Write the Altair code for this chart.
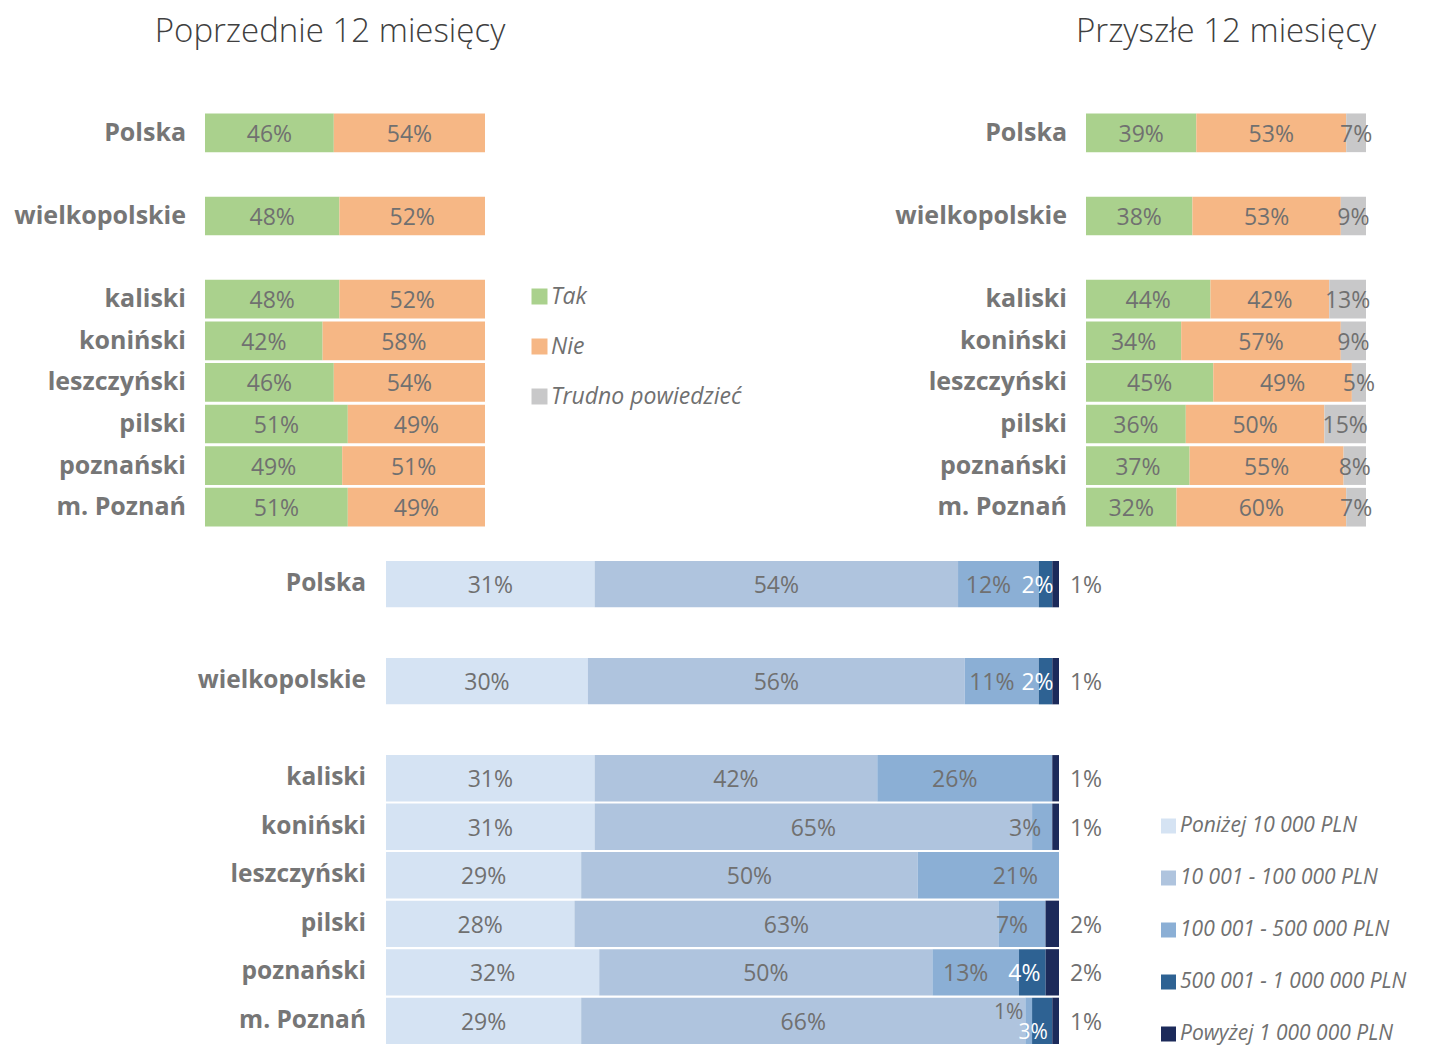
import altair as alt
import pandas as pd

# ---------------- data ----------------
regions = ["Polska", "wielkopolskie", "kaliski", "koniński", "leszczyński",
           "pilski", "poznański", "m. Poznań"]
slots = ["Polska", "gap1", "wielkopolskie", "gap2", "kaliski", "koniński",
         "leszczyński", "pilski", "poznański", "m. Poznań"]
titles = ["Poprzednie 12 miesięcy", "Przyszłe 12 miesięcy"]

answers = ["Tak", "Nie", "Trudno powiedzieć"]
answer_colors = ["#AAD18D", "#F6B785", "#C8C8C9"]

past_tak = [46, 48, 48, 42, 46, 51, 49, 51]
past_nie = [54, 52, 52, 58, 54, 49, 51, 49]

next_tak = [39, 38, 44, 34, 45, 36, 37, 32]
next_nie = [53, 53, 42, 57, 49, 50, 55, 60]
next_trudno = [7, 9, 13, 9, 5, 15, 8, 7]

ranges = ["Poniżej 10 000 PLN", "10 001 - 100 000 PLN", "100 001 -  500 000 PLN",
          "500 001 -  1 000 000 PLN", "Powyżej 1 000 000 PLN"]
range_colors = ["#D5E3F3", "#AFC4DE", "#8BAFD5", "#2E6293", "#1C2A5A"]
val_r1 = [31, 30, 31, 31, 29, 28, 32, 29]
val_r2 = [54, 56, 42, 65, 50, 63, 50, 66]
val_r3 = [12, 11, 26, 3, 21, 7, 13, 1]
val_r4 = [2, 2, 0, 0, 0, 0, 4, 3]
val_r5 = [1, 1, 1, 1, 0, 2, 2, 1]

FONT = "Open Sans"
GREY = "#707070"
LABEL_GREY = "#767676"
VAL_SIZE = 23


def long_df(names, series):
    rows = []
    for i, reg in enumerate(regions):
        for k, (name, vals) in enumerate(zip(names, series)):
            rows.append({"region": reg, "series": name, "order": k, "value": vals[i]})
    return pd.DataFrame(rows)


def stacked(df):
    return (alt.Chart(df)
            .transform_filter("datum.value > 0")
            .transform_stack(stack="value", groupby=["region"], as_=["s0", "s1"],
                             offset="normalize",
                             sort=[alt.SortField("order", order="ascending")])
            .transform_calculate(mid="(datum.s0 + datum.s1) / 2",
                                 label="datum.value + '%'"))


def bars(base, x_range, y_range, pin, pout, cdomain, crange, legend):
    return base.mark_bar().encode(
        x=alt.X("s0:Q", scale=alt.Scale(domain=[0, 1], range=x_range, nice=False, zero=False), axis=None),
        x2="s1:Q",
        y=alt.Y("region:N", scale=alt.Scale(domain=slots, range=y_range,
                                              paddingInner=pin, paddingOuter=pout), axis=None),
        color=alt.Color("series:N", scale=alt.Scale(domain=cdomain, range=crange), legend=legend),
    )


def vtext(base, filt, dx=0, dy=0, color=GREY, xfield="mid", size=VAL_SIZE):
    return base.transform_filter(filt).mark_text(
        font=FONT, fontSize=size, color=color, dx=dx, dy=dy + 2, baseline="middle"
    ).encode(x=alt.X(f"{xfield}:Q"), y=alt.Y("region:N"), text="label:N")


def names(dx, size):
    return alt.Chart(pd.DataFrame({"region": regions})).mark_text(
        align="right", baseline="middle", dx=dx, font=FONT, fontSize=size,
        fontWeight="bold", color=LABEL_GREY
    ).encode(x=alt.datum(0), y=alt.Y("region:N"), text="region:N")


def title(t, dx, size):
    return alt.Chart(pd.DataFrame({"t": [t]})).mark_text(
        font=FONT, fontSize=size, fontWeight=300, color="#404040", dx=dx, baseline="middle"
    ).encode(x=alt.datum(0.5), y=alt.value(24), text="t:N")


legend_top = alt.Legend(title=None, orient="none", legendX=520, legendY=277,
                        symbolType="square", symbolSize=256, symbolStrokeWidth=0,
                        labelFont=FONT, labelFontSize=23, labelFontStyle="italic",
                        labelColor=GREY, rowPadding=26, labelLimit=500, labelOffset=0,
                        padding=0)
legend_bot = alt.Legend(title=None, orient="none", legendX=1150, legendY=807.5,
                        symbolType="square", symbolSize=225, symbolStrokeWidth=0,
                        labelFont=FONT, labelFontSize=21, labelFontStyle="italic",
                        labelColor=GREY, rowPadding=30, labelLimit=500, labelOffset=1,
                        padding=0)

TOP_Y = [104, 520]
BOT_Y = [552, 1037]

# ---- left panel ----
past_base = stacked(long_df(answers[:2], [past_tak, past_nie]))
left = alt.layer(
    bars(past_base, [197, 477], TOP_Y, 0.07, 0.035, answers, answer_colors, legend_top),
    vtext(past_base, "true"),
    names(-19, 25),
    title(titles[0], -15, 33),
)

# ---- right panel ----
next_base = stacked(long_df(answers, [next_tak, next_nie, next_trudno]))
right = alt.layer(
    bars(next_base, [1078, 1358], TOP_Y, 0.07, 0.035, answers, answer_colors, legend_top),
    vtext(next_base, "true"),
    names(-19, 25),
    title(titles[1], 0, 33),
)

top = alt.layer(left, right).resolve_scale(x="independent")

# ---- bottom panel ----
inc_base = stacked(long_df(ranges, [val_r1, val_r2, val_r3, val_r4, val_r5]))
bottom = alt.layer(
    bars(inc_base, [378, 1051], BOT_Y, 0.045, 0.02, ranges, range_colors, legend_bot),
    vtext(inc_base, "datum.order <= 1"),
    vtext(inc_base, "datum.order == 2 && datum.region != 'm. Poznań' && datum.region != 'leszczyński' && datum.region != 'koniński'", dx=-10),
    vtext(inc_base, "datum.order == 2 && datum.region == 'leszczyński'", dx=27),
    vtext(inc_base, "datum.order == 2 && datum.region == 'koniński'", dx=-17),
    vtext(inc_base, "datum.order == 2 && datum.region == 'm. Poznań'", dx=-20, dy=-10, size=21),
    vtext(inc_base, "datum.order == 3 && datum.region != 'm. Poznań'", dx=-8, color="white"),
    vtext(inc_base, "datum.order == 3 && datum.region == 'm. Poznań'", dx=-9, dy=10, color="white", size=21),
    vtext(inc_base, "datum.order == 4", dx=27, xfield="s1"),
    names(-20, 24.5),
)

chart = alt.layer(top, bottom).resolve_scale(
    x="independent", y="independent", color="independent"
).properties(
    width=1424, height=1037, padding=0,
    autosize=alt.AutoSizeParams(type="none"),
).configure_view(strokeWidth=0)

chart.save("out.html", embed_options={"renderer": "svg", "actions": False})
